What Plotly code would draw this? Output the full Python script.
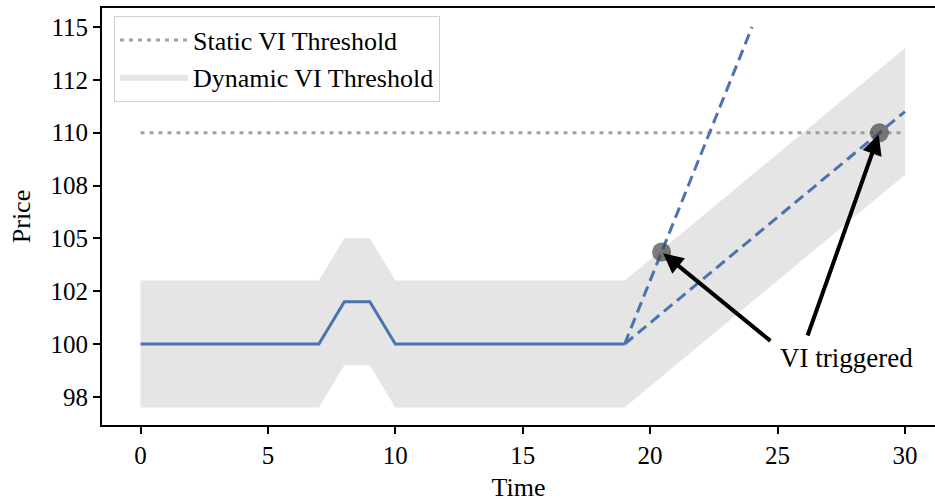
import plotly.graph_objects as go

# Observed price path (before the shock)
time_obs = [0, 1, 2, 3, 4, 5, 6, 7, 8, 9, 10, 11, 12, 13, 14, 15, 16, 17, 18, 19]
price_obs = [100, 100, 100, 100, 100, 100, 100, 100, 102, 102,
             100, 100, 100, 100, 100, 100, 100, 100, 100, 100]

# Two possible continuations after t = 19
time_fast = [19, 24]
price_fast = [100, 115]
time_slow = [19, 30]
price_slow = [100, 111]

# Dynamic VI band (upper / lower edge)
time_band = [0, 7, 8, 9, 10, 19, 30]
band_upper = [103, 103, 105, 105, 103, 103, 114]
band_lower = [97, 97, 99, 99, 97, 97, 108]

# Static VI threshold
time_static = [0, 30]
static_level = [110, 110]

# Points where the VI fires
trigger_time = [20.45, 29]
trigger_price = [104.35, 110]

# Axis ticks
x_ticks = [0, 5, 10, 15, 20, 25, 30]
y_ticks = [97.5, 100, 102.5, 105, 107.5, 110, 112.5, 115]
y_tick_text = ["98", "100", "102", "105", "108", "110", "112", "115"]

BLUE = "#4C72B0"
FONT = "Liberation Serif"

fig = go.Figure()

fig.add_trace(go.Scatter(
    x=time_band + time_band[::-1],
    y=band_upper + band_lower[::-1],
    fill="toself", fillcolor="#e5e5e5", mode="lines",
    line=dict(width=0, color="#e5e5e5"),
    name="Dynamic VI Threshold", legendrank=2, hoverinfo="skip",
))
fig.add_trace(go.Scatter(
    x=time_static, y=static_level, mode="lines",
    line=dict(color="#a0a0a0", width=3, dash="4px,5px"),
    name="Static VI Threshold", legendrank=1,
))
fig.add_trace(go.Scatter(
    x=time_obs, y=price_obs, mode="lines",
    line=dict(color=BLUE, width=3), showlegend=False,
))
fig.add_trace(go.Scatter(
    x=time_fast, y=price_fast, mode="lines",
    line=dict(color=BLUE, width=3, dash="11px,6px"), showlegend=False,
))
fig.add_trace(go.Scatter(
    x=time_slow, y=price_slow, mode="lines",
    line=dict(color=BLUE, width=3, dash="11px,6px"), showlegend=False,
))
fig.add_trace(go.Scatter(
    x=trigger_time, y=trigger_price, mode="markers",
    marker=dict(size=19, color="rgba(70,70,70,0.7)", line=dict(width=0)),
    showlegend=False,
))

# Label and arrows pointing at the trigger points
fig.add_annotation(
    x=25.0, y=99.35, xref="x", yref="y", text="VI triggered",
    showarrow=False, xanchor="left", yanchor="middle",
    font=dict(family=FONT, size=27, color="black"),
)
arrow_tails = [(24.78, 100.09), (26.16, 100.33)]
for (tx, ty), px, py in zip(arrow_tails, trigger_time, trigger_price):
    fig.add_annotation(
        x=px, y=py, ax=tx, ay=ty, xref="x", yref="y", axref="x", ayref="y",
        text="", showarrow=True, arrowhead=2, arrowsize=1.0, arrowwidth=4,
        arrowcolor="black", standoff=2,
    )

fig.update_layout(
    width=935, height=502,
    margin=dict(l=102, r=0, t=8, b=77),
    plot_bgcolor="white", paper_bgcolor="white",
    font=dict(family=FONT, size=25, color="black"),
    legend=dict(
        x=0.0144, y=0.982, xanchor="left", yanchor="top",
        bgcolor="rgba(255,255,255,0.8)", bordercolor="#d0d0d0", borderwidth=1,
        font=dict(family=FONT, size=26), itemwidth=68, tracegroupgap=2,
    ),
)
fig.update_xaxes(
    range=[-1.511, 31.18], tickvals=x_ticks, ticks="outside", ticklen=7,
    tickwidth=1.5, tickcolor="black", showline=True, linecolor="black",
    linewidth=1.8, mirror=True, showgrid=False, zeroline=False,
    title=dict(text="Time", standoff=10, font=dict(size=26)),
)
fig.update_yaxes(
    range=[96.167, 115.9], tickvals=y_ticks, ticktext=y_tick_text,
    ticks="outside", ticklen=7, tickwidth=1.5, tickcolor="black",
    showline=True, linecolor="black", linewidth=1.8, mirror=False,
    showgrid=False, zeroline=False,
    title=dict(text="Price", standoff=12, font=dict(size=26)),
)

fig.write_html("out.html")
